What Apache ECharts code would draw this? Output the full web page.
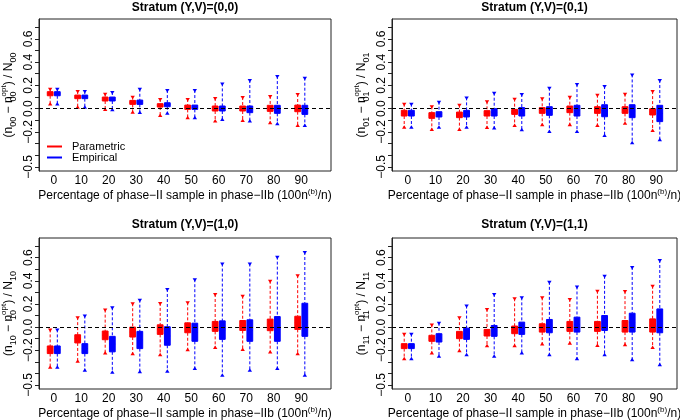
<!DOCTYPE html>
<html><head><meta charset="utf-8">
<script src="https://cdn.jsdelivr.net/npm/echarts@6/dist/echarts.min.js"></script>
<style>html,body{margin:0;padding:0;background:#fff}#c{width:680px;height:420px}</style>
</head><body><div id="c"></div>
<script>
// ---------- data ----------
const categories = ['0','10','20','30','40','50','60','70','80','90'];
const yTickValues = [-0.5,-0.4,-0.3,-0.2,-0.1,0,0.1,0.2,0.3,0.4,0.5,0.6,0.7];
const yLabelValues = [-0.5,-0.2,0,0.2,0.4,0.6];
const seriesNames = ['Parametric','Empirical'];
const panelTitles = ['Stratum (Y,V)=(0,0)','Stratum (Y,V)=(0,1)','Stratum (Y,V)=(1,0)','Stratum (Y,V)=(1,1)'];
const strataIdx = ['00','01','10','11'];
const xTitle = 'Percentage of phase\u2212II sample in phase\u2212IIb (100n{sup|(b)}/n)';

// [lower whisker, Q1, median, Q3, upper whisker]
const s00Parametric = [[0.037,0.111,0.128,0.146,0.171],[0.009,0.086,0.10,0.117,0.151],[-0.011,0.066,0.083,0.10,0.129],[-0.034,0.037,0.054,0.071,0.103],[-0.063,0.014,0.029,0.043,0.083],[-0.083,-0.006,0.012,0.031,0.083],[-0.111,-0.02,0.003,0.023,0.091],[-0.106,-0.02,0.003,0.023,0.10],[-0.126,-0.023,0.003,0.029,0.109],[-0.149,-0.026,0.003,0.031,0.126]];
const s00Empirical = [[0.037,0.111,0.128,0.146,0.171],[0.009,0.086,0.10,0.117,0.151],[-0.014,0.066,0.083,0.10,0.143],[-0.037,0.037,0.056,0.074,0.171],[-0.043,0.017,0.034,0.051,0.16],[-0.083,-0.006,0.012,0.031,0.16],[-0.097,-0.02,0.003,0.023,0.217],[-0.111,-0.034,-0.006,0.023,0.246],[-0.134,-0.04,-0.006,0.029,0.28],[-0.149,-0.049,-0.01,0.029,0.266]];
const s01Parametric = [[-0.163,-0.063,-0.04,-0.014,0.043],[-0.183,-0.083,-0.06,-0.034,0.02],[-0.183,-0.077,-0.054,-0.029,0.034],[-0.166,-0.063,-0.04,-0.017,0.063],[-0.149,-0.049,-0.026,-0.006,0.086],[-0.143,-0.04,-0.015,0.009,0.089],[-0.143,-0.034,-0.006,0.023,0.103],[-0.149,-0.04,-0.012,0.017,0.12],[-0.129,-0.04,-0.012,0.017,0.129],[-0.191,-0.054,-0.027,0,0.151]];
const s01Empirical = [[-0.163,-0.063,-0.04,-0.014,0.043],[-0.163,-0.071,-0.048,-0.026,0.06],[-0.163,-0.071,-0.043,-0.014,0.097],[-0.171,-0.063,-0.032,0,0.137],[-0.186,-0.063,-0.027,0.009,0.126],[-0.2,-0.057,-0.02,0.017,0.18],[-0.2,-0.063,-0.017,0.029,0.211],[-0.234,-0.069,-0.017,0.034,0.194],[-0.297,-0.077,-0.021,0.034,0.294],[-0.271,-0.111,-0.04,0.029,0.246]];
const s10Parametric = [[-0.351,-0.229,-0.196,-0.163,-0.02],[-0.30,-0.137,-0.10,-0.066,0.086],[-0.229,-0.109,-0.071,-0.034,0.151],[-0.234,-0.086,-0.043,0,0.206],[-0.243,-0.063,-0.02,0.02,0.209],[-0.20,-0.049,-0.006,0.037,0.214],[-0.18,-0.037,0.006,0.049,0.286],[-0.197,-0.029,0.014,0.057,0.271],[-0.22,-0.031,0.019,0.069,0.40],[-0.234,-0.02,0.037,0.094,0.449]];
const s10Empirical = [[-0.351,-0.229,-0.196,-0.163,-0.02],[-0.377,-0.229,-0.186,-0.143,0.10],[-0.394,-0.214,-0.147,-0.08,0.171],[-0.391,-0.186,-0.111,-0.037,0.237],[-0.386,-0.157,-0.077,0.003,0.329],[-0.363,-0.123,-0.045,0.034,0.414],[-0.42,-0.106,-0.026,0.054,0.549],[-0.377,-0.123,-0.03,0.063,0.549],[-0.363,-0.123,-0.016,0.091,0.609],[-0.42,-0.08,0.043,0.206,0.649]];
const s11Parametric = [[-0.277,-0.186,-0.164,-0.143,-0.057],[-0.229,-0.123,-0.097,-0.071,0.023],[-0.209,-0.10,-0.069,-0.037,0.086],[-0.166,-0.077,-0.048,-0.02,0.157],[-0.166,-0.057,-0.024,0.009,0.249],[-0.151,-0.043,-0.007,0.029,0.257],[-0.143,-0.037,0.006,0.049,0.243],[-0.163,-0.037,0.006,0.049,0.314],[-0.157,-0.043,0.007,0.057,0.311],[-0.18,-0.043,0.014,0.071,0.357]];
const s11Empirical = [[-0.277,-0.186,-0.164,-0.143,-0.057],[-0.257,-0.129,-0.093,-0.057,0.037],[-0.243,-0.106,-0.057,-0.009,0.186],[-0.257,-0.08,-0.033,0.014,0.286],[-0.229,-0.063,-0.01,0.043,0.257],[-0.243,-0.049,0.009,0.066,0.391],[-0.277,-0.043,0.021,0.086,0.351],[-0.243,-0.029,0.036,0.10,0.443],[-0.286,-0.043,0.039,0.12,0.52],[-0.329,-0.049,0.054,0.157,0.58]];

const panelData = [[s00Parametric,s00Empirical],[s01Parametric,s01Empirical],[s10Parametric,s10Empirical],[s11Parametric,s11Empirical]];

// ---------- layout / style ----------
const FONT = '"Liberation Sans", Arial, Helvetica, sans-serif';
const COLORS = ['#ff0000', '#0000ff'];
const Y_MIN = -0.535, Y_MAX = 0.77;
const layout = [
  {fl:39,  fr:331, ft:19,  fb:171, il:40,  iw:275, tt:1},
  {fl:392, fr:677, ft:19,  fb:171, il:394, iw:276, tt:1},
  {fl:39,  fr:331, ft:238, fb:389, il:40,  iw:275, tt:218},
  {fl:392, fr:677, ft:238, fb:389, il:394, iw:276, tt:218}
];

function fmtY(v){ const s = Math.abs(v).toFixed(1); return v < -1e-9 ? '\u2212' + s : s; }

function makeRenderer(side, color){
  return function(params, api){
    const i = api.value(0);
    const band = api.size([1, 0])[0];
    const cx = api.coord([i, 0])[0] + side * band * 0.13;
    const hw = band * 0.105;
    const yLo = api.coord([i, api.value(1)])[1];
    const yQ1 = api.coord([i, api.value(2)])[1];
    const yMd = api.coord([i, api.value(3)])[1];
    const yQ3 = api.coord([i, api.value(4)])[1];
    const yHi = api.coord([i, api.value(5)])[1];
    const dash = {stroke: color, lineWidth: 1, lineDash: [3, 2], fill: null};
    return {type:'group', children:[
      {type:'line', shape:{x1:cx, y1:yHi, x2:cx, y2:yQ3}, style: dash},
      {type:'line', shape:{x1:cx, y1:yQ1, x2:cx, y2:yLo}, style: dash},
      {type:'polygon', shape:{points:[[cx-2.2,yHi-1],[cx+2.2,yHi-1],[cx,yHi+2.5]]}, style:{fill:color}},
      {type:'polygon', shape:{points:[[cx-2.2,yLo+1],[cx+2.2,yLo+1],[cx,yLo-2.5]]}, style:{fill:color}},
      {type:'rect', shape:{x:cx-hw, y:yQ3, width:2*hw, height:yQ1-yQ3}, style:{fill:color, stroke:color, lineWidth:1}},
      {type:'line', shape:{x1:cx-hw, y1:yMd, x2:cx+hw, y2:yMd}, style:{stroke:color, lineWidth:1}}
    ]};
  };
}

const grids = [], xAxes = [], yAxes = [], series = [], titles = [];
layout.forEach((L, p) => {
  const s = strataIdx[p];
  const frameIdx = 2*p, innerIdx = 2*p + 1;
  grids.push({left:L.fl, top:L.ft, width:L.fr-L.fl, height:L.fb-L.ft, show:true, borderColor:'#222', borderWidth:1, backgroundColor:'transparent', containLabel:false, outerBoundsMode:'none'});
  grids.push({left:L.il, top:L.ft, width:L.iw, height:L.fb-L.ft, show:false, containLabel:false, outerBoundsMode:'none'});
  xAxes.push({gridIndex:frameIdx, type:'value', min:0, max:1, show:true,
    axisLine:{show:false}, axisTick:{show:false}, axisLabel:{show:false}, splitLine:{show:false},
    name:xTitle, nameLocation:'middle', nameGap:17,
    nameTextStyle:{fontFamily:FONT, fontSize:12, color:'#000', lineHeight:16,
      rich:{sup:{fontFamily:FONT, fontSize:8, lineHeight:8, verticalAlign:'top', color:'#000'}}}});
  xAxes.push({gridIndex:innerIdx, type:'category', data:categories, boundaryGap:true,
    axisLine:{show:false}, axisTick:{show:false}, splitLine:{show:false},
    axisLabel:{fontFamily:FONT, fontSize:12, color:'#000', margin:4, interval:0}});
  yAxes.push({gridIndex:frameIdx, type:'value', min:Y_MIN, max:Y_MAX,
    axisLine:{show:true, lineStyle:{color:'#222'}},
    axisTick:{show:true, length:4, customValues:yTickValues, lineStyle:{color:'#222'}},
    axisLabel:{customValues:yLabelValues, formatter:fmtY, rotate:90, fontFamily:FONT, fontSize:12, color:'#000', margin:4},
    splitLine:{show:false},
    name:'(n{sub|' + s + '} \u2212 n{subz|' + s + '}{sup|opt}) / N{sub|' + s + '}',
    nameLocation:'middle', nameRotate:90, nameGap:21,
    nameTextStyle:{fontFamily:FONT, fontSize:12, color:'#000', lineHeight:18,
      rich:{
        sub:{fontFamily:FONT, fontSize:9, lineHeight:9, verticalAlign:'bottom', color:'#000'},
        subz:{fontFamily:FONT, fontSize:9, lineHeight:9, verticalAlign:'bottom', color:'#000', width:0},
        sup:{fontFamily:FONT, fontSize:8, lineHeight:8, verticalAlign:'top', color:'#000'}
      }}});
  yAxes.push({gridIndex:innerIdx, type:'value', min:Y_MIN, max:Y_MAX, show:false});
  series.push({type:'line', xAxisIndex:frameIdx, yAxisIndex:frameIdx, data:[], silent:true,
    markLine:{silent:true, symbol:'none', label:{show:false}, animation:false,
      lineStyle:{color:'#000', width:1, type:[4,3]}, emphasis:{disabled:true}, data:[{yAxis:0}]}});
  panelData[p].forEach((arr, k) => {
    series.push({type:'custom', name:seriesNames[k], xAxisIndex:innerIdx, yAxisIndex:innerIdx,
      itemStyle:{color:COLORS[k]}, silent:true, animation:false,
      encode:{x:0, y:[1,2,3,4,5]},
      data: arr.map((v, i) => [i].concat(v)),
      renderItem: makeRenderer(k === 0 ? -1 : 1, COLORS[k])});
  });
  titles.push({text:panelTitles[p], left:(L.fl+L.fr)/2, top:L.tt, textAlign:'center', padding:0,
    textStyle:{fontFamily:FONT, fontSize:12, fontWeight:'bold', color:'#000', lineHeight:14}});
});

const chart = echarts.init(document.getElementById('c'), null, {renderer:'canvas'});
chart.setOption({
  animation:false,
  backgroundColor:'#fff',
  title:titles,
  grid:grids, xAxis:xAxes, yAxis:yAxes, series:series,
  legend:{data:seriesNames, orient:'vertical', left:47, top:141, icon:'rect', itemWidth:15, itemHeight:2,
    itemGap:0, padding:0, selectedMode:false,
    textStyle:{fontFamily:FONT, fontSize:11, color:'#000', lineHeight:11, padding:[0,0,0,5]}}
});
</script></body></html>
